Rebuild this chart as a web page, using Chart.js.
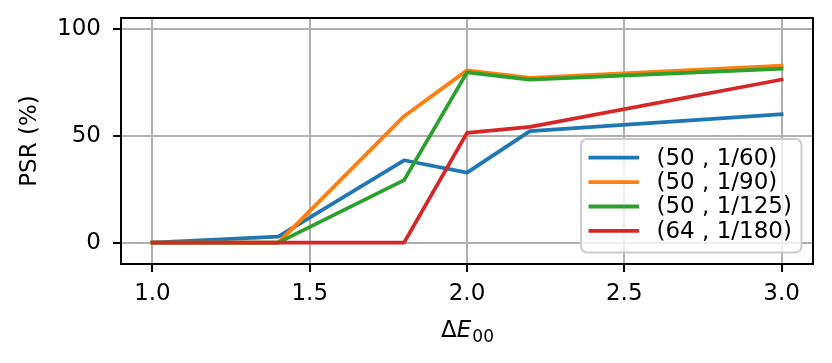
<!DOCTYPE html>
<html>
<head>
<meta charset="utf-8">
<script src="https://cdn.jsdelivr.net/npm/chart.js@4"></script>
<style>
  body { margin: 0; background: #fff; }
  canvas { display: block; }
</style>
</head>
<body>
<canvas id="psr-chart" width="832" height="363"></canvas>
<script>
// Dados do gráfico
const deltaE = [1.0, 1.4, 1.8, 2.0, 2.2, 3.0];
const psr60 = [0, 2.8, 38.5, 32.7, 52.1, 60.0];
const psr90 = [0, 0, 59.1, 80.5, 77.0, 82.7];
const psr125 = [0, 0, 29.2, 79.6, 76.2, 81.3];
const psr180 = [0, 0, 0, 51.3, 54.1, 76.2];
const seriesLabels = ['(50 , 1/60)', '(50 , 1/90)', '(50 , 1/125)', '(64 , 1/180)'];
const xTicks = [1.0, 1.5, 2.0, 2.5, 3.0];
const yTicks = [0, 50, 100];

const colors = ['#1f77b4', '#ff7f0e', '#2ca02c', '#d62728'];
const FONT = 'DejaVu Sans';

const allSeries = [psr60, psr90, psr125, psr180];
const datasets = allSeries.map(function (values, i) {
    return {
        label: seriesLabels[i],
        data: deltaE.map(function (x, j) { return { x: x, y: values[j] }; }),
        borderColor: colors[i],
        backgroundColor: colors[i],
        borderWidth: 3.8,
        borderCapStyle: 'square',
        borderJoinStyle: 'round',
        pointRadius: 0,
        tension: 0,
        order: allSeries.length - i   // as últimas séries ficam por cima
    };
});

// Moldura (spines) em volta da área do gráfico
const frame = {
    id: 'frame',
    afterDatasetsDraw(chart) {
        const a = chart.chartArea;
        const ctx = chart.ctx;
        ctx.save();
        ctx.strokeStyle = '#000';
        ctx.lineWidth = 2;
        ctx.strokeRect(a.left, a.top, a.right - a.left, a.bottom - a.top);
        ctx.restore();
    }
};

// Título do eixo x: ΔE com subscrito 00
const xTitle = {
    id: 'xTitle',
    afterDraw(chart) {
        const a = chart.chartArea;
        const ctx = chart.ctx;
        const cx = (a.left + a.right) / 2;
        const base = 337;
        ctx.save();
        ctx.fillStyle = '#000';
        ctx.textBaseline = 'alphabetic';
        ctx.textAlign = 'left';
        const fDelta = '23px "' + FONT + '"';
        const fE = 'italic 23px "' + FONT + '"';
        const fSub = '17px "' + FONT + '"';
        ctx.font = fDelta; const wD = ctx.measureText('Δ').width;
        ctx.font = fE; const wE = ctx.measureText('E').width;
        ctx.font = fSub; const wS = ctx.measureText('00').width;
        let x = cx - (wD + wE + wS) / 2;
        ctx.font = fDelta; ctx.fillText('Δ', x, base); x += wD;
        ctx.font = fE; ctx.fillText('E', x, base); x += wE + 1;
        ctx.font = fSub; ctx.fillText('00', x, base + 4.5);
        ctx.restore();
    }
};

// Legenda dentro da área do gráfico
const innerLegend = {
    id: 'innerLegend',
    afterDraw(chart) {
        const ctx = chart.ctx;
        const bx = 581, by = 139, bw = 220.5, bh = 113.5, r = 6;
        ctx.save();
        ctx.beginPath();
        ctx.roundRect(bx, by, bw, bh, r);
        ctx.fillStyle = 'rgba(255,255,255,0.8)';
        ctx.fill();
        ctx.strokeStyle = '#cccccc';
        ctx.lineWidth = 2;
        ctx.stroke();
        ctx.font = '23px "' + FONT + '"';
        ctx.textBaseline = 'middle';
        ctx.textAlign = 'left';
        chart.data.datasets.forEach(function (ds, i) {
            const y = 157.7 + i * 24.4;
            ctx.beginPath();
            ctx.moveTo(588.5, y);
            ctx.lineTo(639, y);
            ctx.strokeStyle = ds.borderColor;
            ctx.lineWidth = 3.8;
            ctx.stroke();
            ctx.fillStyle = '#000';
            ctx.fillText(ds.label, 656.5, y + 1);
        });
        ctx.restore();
    }
};

const psrChart = document.getElementById('psr-chart');
new Chart(psrChart, {
    type: 'line',
    data: { datasets: datasets },
    options: {
        responsive: false,
        devicePixelRatio: 1,
        animation: false,
        layout: { padding: { left: 0, right: 19, top: 18, bottom: 0 } },
        plugins: {
            legend: { display: false },
            tooltip: { enabled: false }
        },
        scales: {
            x: {
                type: 'linear',
                min: 0.9,
                max: 3.1,
                afterBuildTicks: function (scale) {
                    scale.ticks = xTicks.map(function (v) { return { value: v }; });
                },
                afterFit: function (scale) { scale.height = 99; },
                ticks: {
                    color: '#000',
                    padding: 0,
                    maxRotation: 0,
                    font: { family: FONT, size: 23, lineHeight: 1.9 },
                    callback: function (v) { return Number(v).toFixed(1); }
                },
                grid: { color: '#b0b0b0', lineWidth: 2, tickColor: '#000', tickLength: 8, tickWidth: 2 },
                border: { display: false },
                title: { display: false }
            },
            y: {
                min: -10,
                max: 105,
                afterBuildTicks: function (scale) {
                    scale.ticks = yTicks.map(function (v) { return { value: v }; });
                },
                afterFit: function (scale) { scale.width = 121; },
                ticks: {
                    color: '#000',
                    padding: 12,
                    font: { family: FONT, size: 23, lineHeight: 0.4 }
                },
                grid: { color: '#b0b0b0', lineWidth: 2, tickColor: '#000', tickLength: 8, tickWidth: 2 },
                border: { display: false },
                title: {
                    display: true,
                    text: 'PSR (%)',
                    color: '#000',
                    padding: { top: 16, bottom: 0 },
                    font: { family: FONT, size: 23 }
                }
            }
        }
    },
    plugins: [frame, xTitle, innerLegend]
});
</script>
</body>
</html>
